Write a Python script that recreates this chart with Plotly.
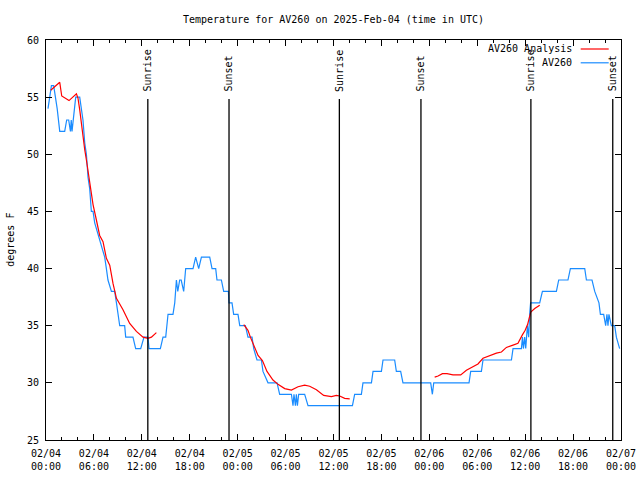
import pandas as pd
import plotly.graph_objects as go

BASE = pd.Timestamp("2025-02-04 00:00")

# AV260 observations: hours since 2025-02-04 00:00 UTC, temperature (F)
obs_hours = [0.25, 0.68, 0.96, 1.18, 1.40, 1.72, 2.34, 2.59, 2.84, 3.06, 3.16, 3.26, 3.72, 4.22,
             4.43, 4.63, 4.85, 5.06, 5.26, 5.47, 5.68, 5.89, 6.10, 6.51, 6.94, 7.35, 7.56, 7.76,
             8.19, 8.60, 8.82, 9.02, 9.23, 9.85, 9.98, 10.89, 11.23, 11.86, 12.27, 12.77, 12.90,
             14.32, 14.65, 14.99, 15.28, 15.90, 16.12, 16.33, 16.50, 16.74, 16.93, 17.24, 17.49,
             17.78, 18.41, 18.74, 19.12, 19.46, 20.50, 20.79, 21.25, 21.41, 21.96, 22.25, 22.84,
             22.91, 23.29, 23.50, 24.04, 24.26, 24.97, 25.29, 25.80, 26.01, 26.42, 26.97, 27.17,
             27.80, 28.93, 29.26, 30.73, 30.93, 31.05, 31.23, 31.35, 31.48, 31.64, 32.39, 32.81,
             38.37, 38.65, 39.49, 39.69, 40.75, 40.95, 42.00, 42.20, 43.66, 43.87, 44.41, 44.70,
             48.17, 48.38, 48.55, 52.97, 53.18, 54.52, 54.72, 58.28, 58.48, 59.53, 59.66, 59.78,
             59.94, 60.07, 60.28, 60.44, 60.56, 60.68, 61.82, 62.16, 63.91, 64.20, 65.36, 65.66,
             67.46, 67.67, 68.37, 68.71, 69.24, 69.42, 69.83, 70.08, 70.24, 70.37, 70.49, 70.79,
             71.21, 71.42, 71.83]
obs_temps = [54, 56, 56, 55, 54, 52, 52, 53, 53, 52, 53, 52, 55, 55,
             54, 53, 51, 50, 48, 47, 45, 45, 44, 43, 42, 41, 40, 39,
             38, 38, 37, 36, 35, 35, 34, 34, 33, 33, 34, 34, 33,
             33, 34, 34, 36, 36, 37, 39, 38, 39, 39, 38, 40,
             40, 40, 41, 40, 41, 41, 40, 40, 39, 39, 38, 38,
             37, 37, 36, 36, 35, 35, 34, 34, 33, 32, 32, 31,
             30, 30, 29, 29, 28, 29, 28, 29, 28, 29, 29, 28,
             28, 29, 29, 30, 30, 31, 31, 32, 32, 31, 31, 30,
             30, 29, 30, 30, 31, 31, 32, 32, 33, 33, 34, 33,
             34, 33, 35, 34, 36, 37, 37, 38, 38, 39, 39, 40,
             40, 39, 39, 38, 37, 36, 36, 35, 36, 35, 36, 35,
             35, 34, 33]

# AV260 Analysis (three runs, None = gap)
ana_hours = [0.59, 1.72, 1.97, 2.88, 3.81, 4.01, 4.22, 4.43, 4.63, 4.85, 5.06, 5.26, 5.47, 5.68,
             5.89, 6.31, 6.72, 7.14, 7.56, 7.98, 8.39, 8.82, 9.64, 10.48, 11.32, 12.15, 12.77,
             13.20, 13.82, None,
             24.76, 25.29, 25.59, 26.01, 26.55, 27.10, 27.67, 28.42, 29.05, 29.89, 30.73, 31.56,
             32.39, 33.02, 33.86, 34.77, 35.74, 36.36, 36.78, 37.40, 38.03, None,
             48.67, 49.09, 49.64, 50.21, 50.96, 51.93, 52.64, 53.47, 54.09, 54.72, 55.56, 56.40,
             57.03, 57.65, 58.48, 59.10, 59.65, 60.00, 60.30, 60.50, 60.70, 61.20, 61.82]
ana_temps = [55.6, 56.3, 55.1, 54.7, 55.3, 54.9, 53.9, 52.7, 51.4, 50.4, 49.5, 48.6, 47.5, 46.3,
             45.6, 44.25, 42.9, 42.35, 40.9, 40.3, 38.7, 37.4, 36.4, 35.2, 34.5, 34.0, 33.9,
             34.0, 34.4, None,
             35.1, 34.6, 34.0, 33.3, 32.4, 31.95, 31.0, 30.25, 29.87, 29.5, 29.37, 29.66,
             29.8, 29.7, 29.4, 28.9, 28.8, 28.9, 28.85, 28.65, 28.6, None,
             30.5, 30.6, 30.8, 30.8, 30.7, 30.7, 31.1, 31.4, 31.65, 32.15, 32.4, 32.6,
             32.7, 33.1, 33.3, 33.46, 34.2, 34.6, 35.1, 35.6, 36.2, 36.5, 36.8]

sunrise_times = ["2025-02-04 12:45", "2025-02-05 12:44", "2025-02-06 12:43"]
sunset_times = ["2025-02-04 22:55", "2025-02-05 22:57", "2025-02-06 22:58"]

tick_times = pd.date_range("2025-02-04 00:00", "2025-02-07 00:00", freq="6h")
tick_labels = [t.strftime("%m/%d<br>%H:%M") for t in tick_times]

y_range = [25, 60]

FONT = "DejaVu Sans Mono"
RED = "#ff0000"
BLUE = "#1a8cff"

FIG_W, FIG_H = 640, 480


def to_time(hours):
    return [None if h is None else BASE + pd.Timedelta(hours=h) for h in hours]


fig = go.Figure()
fig.add_trace(go.Scatter(x=to_time(obs_hours), y=obs_temps, mode="lines",
                         line=dict(color=BLUE, width=1.2), name="AV260"))
fig.add_trace(go.Scatter(x=to_time(ana_hours), y=ana_temps, mode="lines",
                         line=dict(color=RED, width=1.2), name="AV260 Analysis",
                         connectgaps=False))

line_top = 0.8525
label_y = 0.866
for lbl, times in (("Sunrise", sunrise_times), ("Sunset", sunset_times)):
    for t in times:
        fig.add_shape(type="line", xref="x", yref="paper", x0=t, x1=t, y0=0, y1=line_top,
                      line=dict(color="black", width=1.3))
        fig.add_annotation(x=t, y=label_y, xref="x", yref="paper", text=lbl, textangle=-90,
                           showarrow=False, xanchor="center", yanchor="bottom",
                           font=dict(family=FONT, size=10, color="black"))

# legend drawn gnuplot-style (text left of sample)
legend_rows = [("AV260 Analysis", RED, 0.9775), ("AV260", BLUE, 0.943)]
for txt, col, yp in legend_rows:
    fig.add_annotation(x=0.9177, y=yp, xref="paper", yref="paper", text=txt, showarrow=False,
                       xanchor="right", yanchor="middle",
                       font=dict(family=FONT, size=10, color="black"))
    fig.add_shape(type="line", xref="paper", yref="paper", x0=0.9299, x1=0.9786, y0=yp, y1=yp,
                  line=dict(color=col, width=1.2))

fig.add_annotation(x=-0.063, y=0.5, xref="paper", yref="paper", text="degrees F",
                   textangle=-90, showarrow=False, xanchor="center", yanchor="middle",
                   font=dict(family=FONT, size=10, color="black"))

fig.update_layout(
    width=FIG_W, height=FIG_H,
    margin=dict(l=46, r=19, t=40, b=40, autoexpand=False),
    paper_bgcolor="white", plot_bgcolor="white",
    showlegend=False,
    font=dict(family=FONT, size=10, color="black"),
    title=dict(text="Temperature for AV260 on 2025-Feb-04 (time in UTC)",
               x=0.5, xref="paper", xanchor="center", y=1 - 19 / FIG_H, yref="container",
               yanchor="middle", font=dict(family=FONT, size=10, color="black")),
)
fig.update_xaxes(type="date", range=[tick_times[0], tick_times[-1]], automargin=False,
                 tickmode="array", tickvals=list(tick_times), ticktext=tick_labels,
                 ticks="inside", ticklen=6, tickcolor="black", tickwidth=1,
                 ticklabelstandoff=4,
                 showline=True, linecolor="black", linewidth=1, mirror="ticks",
                 showgrid=False, zeroline=False,
                 tickfont=dict(family=FONT, size=10, color="black"),
                 minor=dict(ticks="inside", ticklen=3, tickcolor="black",
                            dtick=2 * 3600 * 1000, tick0=tick_times[0], showgrid=False))
fig.update_yaxes(range=y_range, dtick=5, tick0=25, automargin=False,
                 ticks="inside", ticklen=6, tickcolor="black", tickwidth=1,
                 ticklabelstandoff=4,
                 showline=True, linecolor="black", linewidth=1, mirror="ticks",
                 showgrid=False, zeroline=False,
                 tickfont=dict(family=FONT, size=10, color="black"))

fig.write_html("out.html", config={"displayModeBar": False},
               post_script="document.body.style.margin='0px';document.body.style.overflow='hidden';")
